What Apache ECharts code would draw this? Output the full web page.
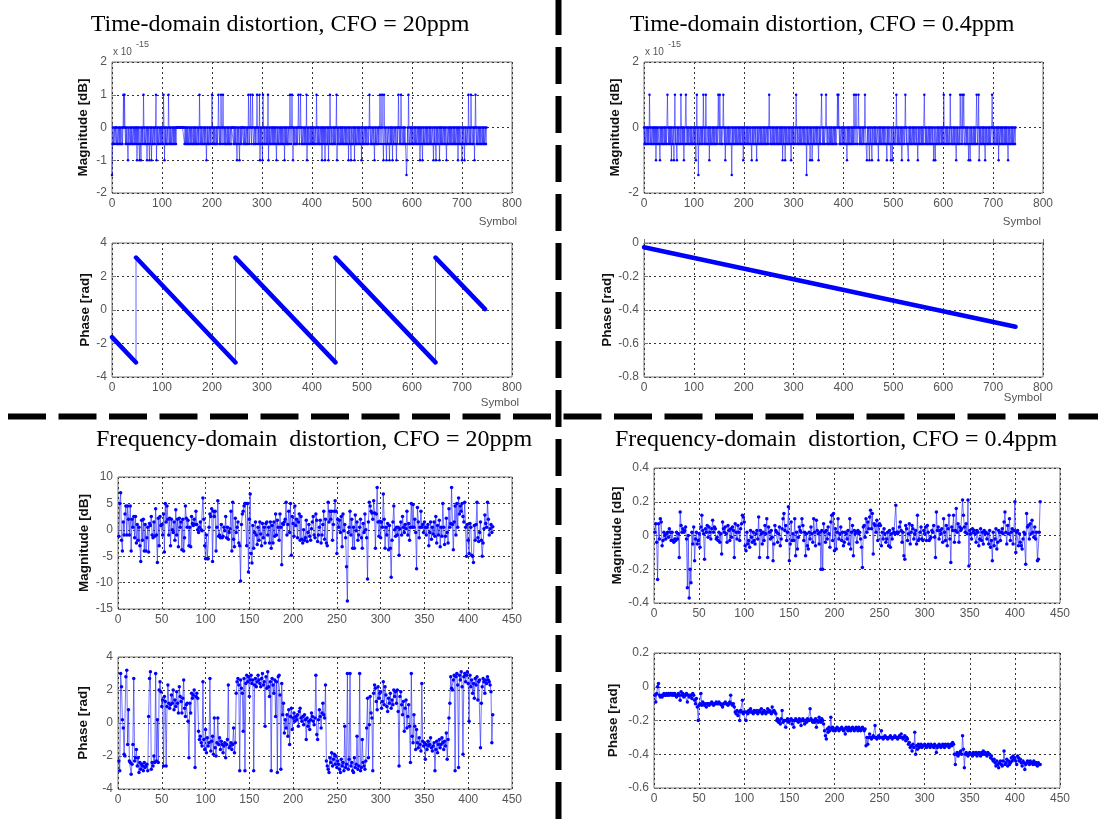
<!DOCTYPE html>
<html><head><meta charset="utf-8">
<script src="https://cdn.jsdelivr.net/npm/echarts@6/dist/echarts.min.js"></script>
<style>html,body{margin:0;padding:0;background:#fff}#c{width:1098px;height:827px}</style>
</head><body><div id="c"></div><script>
// ---------- DATA ----------
// Time-domain magnitude error, CFO = 20ppm (units of 1e-15 dB), symbol index 0..749
const tdMag20 = [
-1.45,-.5,0,-.5,-.5,0,-.5,0,0,-.5,0,-.5,-.5,0,-.5,0,-.5,0,-.5,-.5,0,-.5,0,1,0,
1,0,-.5,0,-.5,0,-.5,-1,0,-.5,-.5,0,-.5,0,-.5,0,-.5,-.5,0,-.5,0,-.5,0,-.5,0,
-1,0,-.5,0,-.5,-1,0,-.5,-1,0,-.5,0,-.5,1,0,-.5,0,-.5,-.5,0,-1,0,-.5,0,-.5,
-1,0,-.5,0,-1,0,-.5,-.5,0,-.5,0,-.5,0,1,-1,0,-.5,0,-.5,-.5,0,-.5,0,-.5,0,
-.5,0,-.5,1,0,-1,0,-.5,0,-.5,-.5,0,-.5,1,0,-.5,0,-.5,0,-.5,-.5,0,-.5,0,-.5,
0,-.5,0,-.5,0,0,0,0,0,0,0,0,0,0,0,0,0,0,0,0,-.5,0,-.5,0,-.5,
0,-.5,0,-.5,-.5,0,-.5,0,-.5,0,-.5,-.5,0,-.5,0,-.5,0,-.5,0,-.5,-.5,0,-.5,0,-.5,
1,0,-.5,0,-.5,0,-.5,-.5,0,-.5,0,-.5,0,-.5,-1,0,-.5,0,-.5,-.5,0,-.5,0,-.5,0,
1,0,-.5,0,-.5,0,-.5,-.5,0,-.5,0,-.5,0,1,0,-.5,0,-.5,1,0,-.5,0,1,0,-.5,
0,-.5,0,-.5,-.5,0,-.5,0,-.5,0,-.5,-.5,0,-.5,0,0,0,0,-.5,0,-.5,0,-.5,0,-.5,
-1,0,-.5,0,-.5,-1,0,-.5,0,-.5,0,0,0,-.5,0,-.5,0,-.5,-.5,0,-.5,0,-.5,1,0,
-.5,0,1,0,-.5,0,1,0,-.5,-.5,0,-.5,0,-.5,0,1,0,-.5,0,-.5,1,-1,0,-.5,0,
-.5,-1,1,0,-.5,0,-.5,-.5,0,-.5,0,-.5,1,-1,0,-.5,0,-.5,-.5,0,-.5,0,-.5,0,-.5,
0,-.5,0,-.5,-1,0,-.5,0,-.5,-.5,0,-.5,0,-.5,0,-.5,0,-.5,-.5,0,-1,0,-.5,0,-.5,
0,-.5,-.5,0,-.5,0,1,0,-.5,0,1,0,-1,0,-.5,0,-.5,-.5,0,-.5,0,-.5,0,1,0,
-.5,0,1,0,-.5,0,-.5,-.5,0,-.5,0,-.5,0,-.5,1,-1,0,-.5,0,-.5,-.5,0,-.5,0,-.5,
0,-.5,0,-.5,0,-.5,-.5,0,-.5,1,0,-.5,0,-.5,0,-.5,-.5,0,-.5,0,-1,0,-.5,0,-.5,
0,-1,0,-.5,-.5,0,-.5,0,-1,0,-.5,1,0,-.5,0,-.5,-.5,0,-.5,0,-.5,0,-.5,0,1,
-1,0,-.5,0,-.5,-.5,0,-.5,0,-.5,0,-.5,0,-.5,-.5,0,-.5,0,-.5,0,-.5,-.5,0,-1,0,
-.5,0,-.5,-1,0,-.5,-.5,0,-.5,0,-1,0,-.5,0,-.5,-.5,0,-.5,0,-.5,0,-.5,-.5,0,-1,
0,-.5,0,-.5,-.5,0,-.5,0,-.5,0,-.5,-.5,0,-.5,0,1,0,-.5,0,-.5,-.5,0,-.5,0,-.5,
-1,0,-.5,0,-.5,-.5,0,-.5,0,-.5,0,1,0,-.5,0,1,0,-.5,-1,1,0,-.5,0,-.5,-1,
0,-.5,-.5,0,-.5,-1,0,-.5,0,-.5,0,-1,0,-.5,-.5,0,-.5,0,-.5,-1,0,-.5,0,1,0,
-.5,0,-.5,1,0,-.5,-.5,0,-.5,0,-.5,0,-.5,-.5,-1.45,-1,0,-.5,1,0,-.5,-.5,0,-.5,0,
-.5,0,-.5,-.5,0,-.5,0,-.5,0,-.5,-.5,0,-.5,0,-.5,0,-1,0,-.5,0,-.5,-1,0,-.5,0,
-.5,-.5,0,-.5,0,-.5,0,-.5,-.5,0,-.5,0,-.5,0,-.5,-.5,0,-.5,-1,0,-.5,0,-.5,-1,0,
-.5,0,-.5,-.5,0,-1,0,-.5,0,-.5,0,-.5,-.5,0,-.5,0,-.5,0,-.5,-1,0,-.5,-.5,0,-.5,
0,-.5,0,-.5,0,-.5,-.5,0,-.5,0,-.5,0,-.5,-.5,0,-.5,0,-1,0,-.5,0,-.5,-.5,0,-.5,
-1,0,-.5,0,-.5,-1,0,-.5,0,-.5,-.5,0,-.5,1,0,-.5,0,-.5,1,0,-.5,-.5,0,-.5,0,
-1,0,1,0,-.5,0,-.5,-.5,0,-.5,0,-.5,0,-.5,-.5,0,-.5,0,-.5,0,-.5,-.5,0,-.5,0
];
// Time-domain magnitude error, CFO = 0.4ppm (units of 1e-15 dB)
const tdMag04 = [
0,-.5,0,-.5,-.5,0,-.5,0,-.5,0,-.5,1,0,-.5,0,-.5,-.5,0,-.5,0,-.5,0,-.5,0,-1,
0,-.5,0,-.5,-.5,0,-.5,-1,0,-.5,0,-.5,0,-.5,-.5,0,-.5,0,-.5,0,-.5,-.5,1,0,-.5,
0,-.5,0,-.5,0,-1,0,-.5,-.5,0,-1,0,1,-.5,0,-.5,-1,0,-.5,0,-.5,-.5,0,-.5,1,
0,-.5,0,-.5,0,-1,0,-.5,-.5,1,0,-.5,0,-.5,0,-.5,-.5,0,-.5,0,-.5,0,-.5,-.5,0,
-.5,0,-.5,0,-1,0,1,-.5,0,-1.45,0,-.5,-.5,0,-.5,0,-.5,0,-.5,1,0,-.5,0,-.5,1,
0,-.5,-.5,0,-.5,0,-1,0,-.5,0,-.5,-.5,0,-.5,0,-.5,0,-.5,-.5,0,-.5,0,-.5,0,1,
0,-.5,1,0,-.5,0,-.5,-.5,0,1,0,-.5,0,-1,0,-.5,-.5,0,-.5,0,-.5,0,-.5,-.5,0,
-.5,-1.45,0,-.5,0,-.5,-.5,0,-.5,0,-.5,0,-.5,-.5,0,-.5,0,-.5,0,-.5,-.5,0,-.5,0,-1,
0,-.5,0,-.5,-.5,0,-.5,0,-.5,0,-.5,-.5,0,-.5,0,-.5,-1,0,-.5,0,-.5,-.5,0,-.5,0,
-.5,-1,0,-.5,0,-.5,-.5,0,-.5,0,-.5,0,-.5,-.5,0,-.5,0,-.5,0,-.5,-.5,0,-.5,0,-.5,
0,1,0,-.5,0,-.5,-.5,0,-.5,0,-.5,0,-.5,-.5,0,-.5,0,-.5,0,-.5,-.5,0,-.5,0,-.5,
0,-.5,0,-1,0,-.5,-.5,0,-1,0,-.5,0,-.5,-.5,0,-.5,0,-.5,0,-.5,-1,0,-.5,0,-.5,
0,-.5,-.5,0,-.5,1,0,-.5,0,-.5,-.5,0,-.5,0,-.5,0,-.5,-.5,0,-.5,0,-.5,0,-.5,-.5,
0,-1.45,0,-.5,0,-.5,-.5,0,-1,0,-.5,0,-1,-.5,0,-.5,0,-.5,-.5,0,-.5,0,-.5,0,-.5,
-1,0,-.5,0,-.5,-.5,1,0,-.5,0,-.5,0,-.5,-.5,0,1,0,-.5,0,-.5,-.5,0,-.5,0,-.5,
0,-.5,0,-.5,-.5,0,-.5,0,-.5,0,-.5,-.5,0,1,0,1,0,-.5,0,-.5,-.5,0,-.5,0,-.5,
0,-.5,0,-.5,-.5,0,-.5,-1,0,-.5,0,-.5,0,-.5,-.5,0,-.5,0,-.5,0,-.5,1,0,-.5,0,
1,0,-.5,-.5,0,1,0,-.5,0,-.5,0,-.5,-.5,0,-.5,0,-.5,0,1,0,-.5,-.5,-1,0,-.5,
0,-.5,-1,0,-.5,0,-.5,-1,0,-.5,-.5,0,-.5,0,-.5,0,-.5,-.5,0,-.5,-1,0,-.5,0,-.5,
0,-.5,-.5,0,-.5,0,-.5,0,-.5,-.5,0,-.5,-1,0,-.5,0,-.5,-.5,0,-.5,-1,0,-.5,-1,0,
-.5,0,-.5,-.5,0,-.5,1,0,-.5,0,-.5,0,-.5,-.5,0,-.5,0,-1,0,-.5,-.5,0,-.5,0,1,
0,-.5,0,-.5,-.5,-1,0,-.5,0,-.5,0,-.5,-.5,0,-.5,0,-.5,0,-.5,-.5,0,-.5,0,-.5,-1,
0,-.5,0,-.5,-.5,0,-.5,0,-.5,0,-.5,-.5,1,0,-.5,0,-.5,0,-.5,-.5,0,-.5,0,-.5,0,
-.5,-.5,0,-.5,0,-.5,-1,0,-.5,-1,0,-.5,-.5,0,-.5,0,-.5,0,-.5,-.5,0,-.5,0,-.5,0,
-.5,1,0,-.5,-.5,0,-.5,0,-.5,0,-.5,-.5,0,-.5,1,0,-.5,0,-.5,-.5,0,-.5,0,-.5,0,
-.5,-1,0,-.5,0,-.5,-.5,0,-.5,1,0,-.5,0,1,-.5,0,1,0,-.5,-.5,0,-.5,0,-.5,0,
-.5,-1,0,-.5,-1,0,-.5,0,-.5,-.5,0,-.5,0,-.5,0,-.5,-.5,1,0,-.5,0,1,-1,0,-.5,
0,-.5,-.5,0,-.5,0,-.5,0,-.5,-1,0,-.5,0,-.5,-.5,0,-.5,0,-.5,0,-.5,-.5,0,1,0,
-.5,0,-.5,0,-.5,-.5,0,-.5,0,-.5,0,-1,0,-.5,-.5,0,-.5,0,-.5,0,-.5,-.5,0,-.5,0,
-.5,0,-.5,0,-.5,-1,0,-.5,0,-.5,-.5,0,-.5,0,-.5,0,-.5,-.5,0,-.5,0
];
// Time-domain phase: straight segments (symbol, rad)
const tdPh20Sym = [0, 48, 48, 247, 247, 447, 447, 647, 647, 746];
const tdPh20Val = [-1.62, -3.13, 3.13, -3.13, 3.13, -3.13, 3.13, -3.13, 3.13, 0.05];
const tdPh04Sym = [0, 745];
const tdPh04Val = [-0.025, -0.5];

// Frequency-domain magnitude, CFO = 20ppm (dB), subcarrier 1..428
const fdMag20 = [
-1.2,5,7,-2,-4,1.5,-1,3,4.5,-1,4.5,2,-1,4.5,-4,2,0.5,2.5,-1.5,2.5,
-2.5,1,-2,0.5,-3,-6,1.8,-2,2,-4,1,-4,-1.5,0.5,-4.2,1.2,0.8,2.5,-1,-1.5,
1.5,-1.2,4,-1,-6.2,2.2,-3,2.5,0.8,1,-1,3,-4.2,5,1.5,4.5,2,-1,2.2,-3,
2,0,-0.5,1.5,-2,3.8,-1,2,-3.2,2.2,0.5,1.5,-3.8,2,-4,-1.5,4.5,2.2,0.5,1.8,
-3,0.5,-3.2,2.5,1.2,0.8,2,1,3.5,1,0,-0.5,0.5,1.5,0,-0.2,6,2,-3,-5.5,
-1,-5.5,-5.5,0.5,3,2.5,4,-6,3.5,2.5,3.5,-4,0.5,5.5,-1.2,-1,-1.5,1,-1.5,-1.2,
0.5,-0.2,2.5,-1.5,0.5,-1.8,-0.5,0.2,3.5,-4,5.2,-1.8,-3.2,2.2,-0.5,0.5,1.5,-2.5,-3,-9.7,
1,3,3.5,4.5,5,5,-3,5,-8,2,6.8,-4.5,-6.3,0.8,-3.5,-0.5,1.5,-1,-2.8,0.5,
-2,1.5,-0.8,-3,1.2,-1.5,0.5,-2.5,1.2,1.5,-1,0.5,-2.5,1.5,-3.5,0.8,-2.5,1.5,-1.2,3,
-1,1.8,0.5,-2,3,0.5,-6.6,1.2,1,1.5,2,5.2,-1,1,3.5,-0.5,5,-4.8,2.5,1.2,
-1.2,4.5,0.8,2,-1.5,1.5,3,-2,2.5,-1.8,-2.5,0,-2,-1.5,1.8,-2.2,-0.5,1,-1.2,-2,
0.2,1.5,2.5,-1,-1.5,3,1.8,-2.2,-1,0.5,1.8,-2.5,-1,1,3.5,-1.8,2,-2.5,-3,5.2,
1.5,3.5,2,3.5,-2,1,3.5,5.5,3.5,-4.5,2,0.5,1.8,-0.5,2.5,-3.2,3,-0.2,1,-1.5,
-7,-13.5,-0.5,0.5,3.5,-1,2,-3.5,0.5,-3.5,2.8,-0.2,1.5,-2,-1,0.5,2,-1.5,-3.5,1.2,
-0.5,3,0,-1.5,-9.3,1.5,5.2,4.5,3.5,3.2,2,5.5,3.2,-3.5,3,8,1.5,-1.2,1.6,-1.5,
1.5,0.5,6.8,2,-3.5,0.5,-1,1.2,-3.8,0.8,-3.5,-9,-2,1.5,4.5,0,-1.2,0.5,-1,0.5,
-4.8,0.2,1.5,-1,2.5,0.5,-0.5,1,0.2,3.5,-1,1.2,-2,0.5,5,0.5,4.8,0.5,2,-0.5,
-7.4,4.2,1.5,-1.5,0.5,3.5,0.5,1,-0.5,1.5,0.5,-1,0.5,1,-3,-0.5,1.5,-1.8,0.5,-0.8,
1.5,-1.2,2.5,-2.5,0.8,-1,1.8,-3.2,0.5,-1.2,5,0.5,-2.8,-1.2,2.2,-0.5,-2.5,4,0.5,1.2,
8,1,-3.8,1.5,4.5,-1,5,0.5,6,3,4.5,3.5,5,2.5,1.5,5.2,0.5,-5,1,-2,
-4.5,1.2,0.5,-4.8,-5,-6.2,0.8,-2,1,5.2,-1.5,-2.2,-0.5,1.5,-2,-5,-2.5,0.2,2.8,1.2,
0.5,5.2,2,-1,0.2,1,-0.5,0.6
];
// Frequency-domain magnitude, CFO = 0.4ppm (dB)
const fdMag04 = [
0.02,0.07,-0.04,-0.26,0.07,-0.02,0.1,0.08,-0.06,-0.03,0.02,0,-0.02,0.01,0.02,-0.01,0.04,0.02,-0.03,0.02,
-0.03,-0.04,-0.02,-0.03,0.02,-0.02,0.01,-0.13,0.14,0.06,0.02,0.04,0.02,0.03,0.05,-0.02,-0.31,0,-0.37,-0.2,
-0.28,0.02,-0.05,0.05,-0.15,-0.02,0.02,-0.05,-0.03,0.01,-0.07,0.05,0.12,0.03,0.01,-0.14,0.04,0.02,0.06,-0.01,
0.05,0.02,-0.02,0.04,0.09,0.02,0.05,0.04,-0.02,-0.01,-0.03,0.02,-0.04,0.01,-0.11,0.08,0.04,0.02,0.05,0.01,
-0.04,0.06,0.03,-0.03,0.04,-0.01,0.05,0.03,-0.13,0.07,0.02,-0.02,0.06,0.02,-0.03,0.04,0.07,0.12,0.11,0.08,
-0.06,-0.09,0.02,-0.05,-0.03,-0.07,0.03,-0.01,-0.04,0.02,-0.03,-0.05,0.01,0.03,-0.02,0.11,-0.13,0.03,0.01,-0.05,
0.02,-0.03,0.06,0.01,0.1,-0.13,0.05,0.02,-0.02,0.03,-0.01,-0.15,-0.05,0.06,0.03,0.02,-0.04,0.01,0.05,-0.06,
-0.02,0.04,0.1,0.13,0.03,0.06,-0.03,0.02,0.17,-0.15,-0.05,0.08,-0.03,0.01,-0.03,0.1,-0.12,0.02,-0.08,-0.01,
0.05,0.03,0.02,0.1,0.06,-0.03,0.02,-0.12,0.01,-0.06,-0.08,0.02,-0.02,0.05,0.01,-0.04,0.1,0.02,-0.06,0.09,
0.03,0.01,-0.05,0.02,-0.2,0.03,-0.2,0.07,0.02,-0.04,0.03,-0.02,0.05,0.01,-0.07,0.08,0.12,-0.03,0.13,-0.09,
0.04,-0.08,0.02,0.1,-0.02,0.01,0.05,-0.03,0.02,-0.06,-0.04,0.02,0.01,-0.02,0.03,-0.05,0.1,-0.08,0.02,0.06,
-0.12,0.03,0.01,0.02,-0.04,0.03,0.01,0.02,-0.02,-0.07,-0.19,0.05,0.06,-0.01,0.1,0.02,0.08,0.04,0.11,0.15,
0.04,0.13,-0.11,0.07,0.06,0.02,0.09,-0.03,0.06,0.07,0.06,-0.06,0.02,-0.02,0.04,0.01,-0.04,-0.02,0.02,-0.06,
0.03,-0.07,0.01,-0.02,0.04,0.02,0.01,0.18,0.02,0.01,0.02,0.05,0.08,0.03,-0.04,0.02,-0.12,-0.14,0.06,0.04,
-0.03,0.01,0.07,-0.05,0.02,0.06,0.04,-0.02,0.01,0.03,-0.05,0.12,-0.03,-0.02,0.02,0.05,-0.02,-0.03,0.03,0.01,
0.05,-0.03,0.06,0.02,-0.03,-0.02,-0.01,0.03,0.02,0.06,-0.01,-0.13,0.14,0.03,0.05,-0.02,0.03,0.01,0.04,-0.04,
0.1,0.02,-0.03,0.06,-0.06,0.04,0.12,-0.02,-0.16,0.05,0.03,0.12,-0.04,0.03,0.16,0.02,0.07,-0.04,0.05,0.03,
0.04,0.21,0.12,0.05,0.02,0.07,0.01,0.21,-0.18,0.03,0.01,-0.02,0.04,0.02,0.03,0.01,-0.04,0.03,0.02,-0.06,
-0.02,0.04,-0.03,0.02,-0.05,0.03,0.01,0.02,-0.02,0.01,-0.05,0.03,-0.07,-0.03,-0.15,0.02,-0.06,-0.02,0.04,-0.08,
-0.04,0.03,0.02,-0.03,0.02,0.04,0.01,0.08,0.14,0.02,-0.05,0.06,0.01,0.1,-0.03,0.02,0.04,-0.05,0.03,0.2,
-0.1,0.02,0.03,-0.06,0.01,-0.04,-0.06,-0.08,-0.02,0.02,0.01,-0.17,0.13,0.05,0.06,-0.02,0.07,0.01,0.09,0.02,
-0.01,0.05,-0.02,0.02,-0.15,-0.14,0.02,0.2
];
// Frequency-domain phase, CFO = 20ppm (rad)
const fdPh20 = [
-2.3,-2.9,3,2.2,0.2,-0.3,-1.9,-2,2.8,3.2,-1.3,0.8,-2.3,-2.4,-3.1,-2.5,-1.3,2.7,-2.3,-2.1,
-1.6,-2.6,-2.1,-3,-2.4,-2.8,-2.5,-2.6,-2.9,-2.4,-2.7,-2.6,-2.5,-2.9,0.4,2.7,3.1,-2.8,-2.4,-2.6,
-2,-2.4,3,-2.3,0.2,-2.4,2,2.5,1.9,1,1.4,-2.6,1.6,1.3,-2.6,1,2.3,1.2,0.9,1.1,
1.7,1.2,2,0.8,1.4,1,1.9,1.2,0.6,2.2,1.6,1.3,0.6,1.5,2.6,0.9,0.4,1.1,1.2,0.1,
-2.1,1.2,0.6,1.8,1.5,1.7,2,-2.7,1.6,1.8,1.5,-0.5,-1,-0.8,-1.2,-1.4,2.5,-1,-1.6,-0.4,
-1.8,-0.9,-1.4,-1.2,2.7,-1.7,-1.1,-0.8,-1.9,0.3,-1.5,-2,-1.2,0.3,-1.3,-0.9,-1.6,-1.1,-1.3,-1.8,
-1.4,-1.2,-2.1,-1.3,-1,2.3,-1.5,-1.4,-1.2,-1.6,-1.3,-0.3,-1.8,-1.2,1.8,2.5,2.7,2.3,-2.9,2.6,
2.1,1.8,-0.5,2.7,-2.9,2.4,2.9,2.5,2.8,1.6,2.6,2.9,2.4,2.6,-2.9,2.3,2.7,2.2,2.5,2.9,
2.6,2.4,2.2,2.7,3,2.3,2.5,-0.2,2.8,2.1,3.1,2.2,1.6,2.5,-2.9,2.7,2.3,1.8,2.6,0.4,
2.5,-3,2.8,2.9,1.7,-2.8,2.4,0.5,1.2,-0.6,0.2,-0.3,0.5,-0.8,0.8,-1.3,0.4,0.9,-0.4,0.3,
0.6,0.1,0.4,0.2,0.5,-0.2,0.7,0.9,0.3,0.1,0.4,-0.1,0.5,0.2,-1,0.3,-0.2,0.1,-0.4,0.2,
0.6,0.4,0.1,-0.1,0.3,2.9,-0.7,-1,0.2,0.8,0.4,-0.3,0.6,1.2,0.5,0.3,2.3,-2.3,-2.6,-2.8,
-3,-2.1,-2.4,-1.8,-2.6,-2.2,-1.9,-2.5,-2,-2.7,-2.3,-2.5,-2.8,-3,-2.2,-2.6,-2.4,-2.9,-0.2,-2.7,
-2.5,3,-2.8,-2.2,3,-2.6,-2.4,-2.9,-3,-2.1,-2.7,-2.5,-0.8,-2.8,-2.6,3,-2.9,-2.7,-1,-2.4,
-2.6,-2.8,-2.3,-0.3,1.5,-2.1,-0.1,1.6,0.6,0.3,-2.9,1.8,2.3,2.1,1.3,0.8,2.2,1.5,1.8,1.9,
0.9,1.3,2.5,1.1,2.2,1.7,1,0.7,1.5,1.2,1.8,0.9,1.4,1.1,2,1.6,1.9,1.2,2,0.7,
-2.6,1.6,1.9,1.1,0.5,1.3,-0.5,0.9,1.4,-0.3,0.4,1.1,-0.2,-2.4,3,-0.8,-1.2,0.5,-0.2,-1.6,
-0.4,-1.2,-1.5,-0.9,-1.3,-1.7,2.4,-1.1,-1.4,-1.2,-2.2,-1.3,-1.6,-1.1,-1.4,-1.3,-0.9,-1.5,-1.7,-1.4,
-1.2,-2.9,-1.6,-1.1,-1.8,-1.3,-1,-1.5,-1.3,-0.9,-1.2,-1.6,-1.1,-1.4,-0.6,-2.2,-1,0.3,1.2,2.8,
2.1,2,2.6,2.9,-2.9,2.8,3,2.3,-2.7,2.9,2.6,3.1,2.2,-1.9,2.8,3,2.5,2.9,3.1,2.4,
0.1,2.9,2.2,2.6,1.8,2.4,1.5,2.7,2.3,2.8,1.4,2.5,2.6,-1.5,1.2,2.2,2.7,2.5,1.8,2.6,
2.4,2.8,2.6,2.5,2.3,1.9,-1.2,0.5
];
// Frequency-domain phase, CFO = 0.4ppm (rad)
const fdPh04 = [
-0.05,-0.09,-0.04,0,0.02,-0.05,-0.06,-0.05,-0.06,-0.05,-0.04,-0.05,-0.05,-0.04,-0.05,-0.04,-0.05,-0.04,-0.04,-0.05,
-0.04,-0.05,-0.04,-0.05,-0.06,-0.05,-0.04,-0.05,-0.08,-0.03,-0.05,-0.04,-0.06,-0.05,-0.05,-0.04,-0.09,-0.05,-0.06,-0.05,
-0.05,-0.07,-0.04,-0.05,-0.08,-0.1,-0.07,-0.12,-0.2,-0.11,-0.1,-0.04,-0.11,-0.09,-0.1,-0.11,-0.1,-0.12,-0.1,-0.1,
-0.11,-0.1,-0.1,-0.09,-0.1,-0.11,-0.1,-0.1,-0.09,-0.1,-0.1,-0.09,-0.1,-0.1,-0.11,-0.12,-0.1,-0.1,-0.09,-0.1,
-0.1,-0.11,-0.1,-0.09,-0.05,-0.1,-0.11,-0.1,-0.12,-0.15,-0.16,-0.14,-0.17,-0.15,-0.2,-0.14,-0.15,-0.08,-0.16,-0.15,
-0.15,-0.2,-0.15,-0.16,-0.14,-0.15,-0.13,-0.15,-0.15,-0.16,-0.14,-0.15,-0.15,-0.14,-0.16,-0.15,-0.14,-0.15,-0.13,-0.16,
-0.15,-0.14,-0.15,-0.16,-0.15,-0.13,-0.15,-0.14,-0.15,-0.16,-0.12,-0.15,-0.14,-0.15,-0.16,-0.2,-0.19,-0.21,-0.2,-0.22,
-0.19,-0.14,-0.21,-0.2,-0.2,-0.24,-0.2,-0.19,-0.21,-0.2,-0.2,-0.19,-0.22,-0.2,-0.24,-0.2,-0.19,-0.2,-0.2,-0.21,
-0.19,-0.2,-0.23,-0.2,-0.19,-0.2,-0.22,-0.2,-0.21,-0.19,-0.2,-0.2,-0.13,-0.19,-0.2,-0.21,-0.2,-0.21,-0.19,-0.24,
-0.2,-0.21,-0.18,-0.2,-0.21,-0.19,-0.2,-0.22,-0.26,-0.29,-0.31,-0.25,-0.27,-0.24,-0.26,-0.18,-0.25,-0.24,-0.26,-0.25,
-0.26,-0.25,-0.24,-0.25,-0.26,-0.25,-0.25,-0.24,-0.25,-0.26,-0.25,-0.28,-0.24,-0.25,-0.26,-0.24,-0.25,-0.26,-0.25,-0.24,
-0.25,-0.26,-0.25,-0.24,-0.25,-0.26,-0.24,-0.25,-0.26,-0.25,-0.24,-0.25,-0.26,-0.25,-0.35,-0.3,-0.34,-0.3,-0.28,-0.3,
-0.31,-0.3,-0.29,-0.3,-0.23,-0.3,-0.31,-0.3,-0.29,-0.3,-0.3,-0.26,-0.3,-0.31,-0.3,-0.29,-0.3,-0.3,-0.31,-0.3,
-0.3,-0.29,-0.3,-0.31,-0.3,-0.3,-0.29,-0.3,-0.3,-0.31,-0.3,-0.29,-0.3,-0.28,-0.3,-0.31,-0.3,-0.29,-0.32,-0.3,
-0.31,-0.34,-0.33,-0.36,-0.35,-0.38,-0.34,-0.36,-0.27,-0.4,-0.35,-0.37,-0.34,-0.36,-0.35,-0.34,-0.36,-0.35,-0.35,-0.34,
-0.35,-0.36,-0.35,-0.34,-0.35,-0.36,-0.34,-0.35,-0.35,-0.36,-0.34,-0.35,-0.39,-0.36,-0.35,-0.34,-0.35,-0.36,-0.35,-0.34,
-0.35,-0.36,-0.34,-0.35,-0.35,-0.34,-0.36,-0.35,-0.34,-0.35,-0.33,-0.34,-0.4,-0.46,-0.4,-0.39,-0.41,-0.4,-0.39,-0.38,
-0.4,-0.29,-0.37,-0.48,-0.4,-0.39,-0.4,-0.41,-0.4,-0.39,-0.4,-0.4,-0.41,-0.39,-0.4,-0.4,-0.39,-0.41,-0.4,-0.39,
-0.4,-0.41,-0.39,-0.4,-0.38,-0.4,-0.39,-0.4,-0.41,-0.39,-0.4,-0.4,-0.42,-0.41,-0.43,-0.44,-0.43,-0.45,-0.47,-0.44,
-0.46,-0.48,-0.45,-0.44,-0.46,-0.47,-0.44,-0.38,-0.46,-0.45,-0.43,-0.47,-0.44,-0.46,-0.45,-0.42,-0.44,-0.41,-0.43,-0.42,
-0.44,-0.46,-0.41,-0.42,-0.44,-0.43,-0.45,-0.47,-0.44,-0.45,-0.49,-0.46,-0.45,-0.44,-0.45,-0.46,-0.44,-0.45,-0.45,-0.46,
-0.44,-0.45,-0.46,-0.45,-0.47,-0.45,-0.46,-0.46
];
// Axis tick settings
const timeTicks = [0, 800, 100];
const freqTicks = [0, 450, 50];

// ---------- CHART ----------
const FONT = '"Liberation Sans", Arial, sans-serif';
const chart = echarts.init(document.getElementById('c'), null, {renderer: 'canvas'});

function grid(l, t, w, h) {
  return {left: l, top: t, width: w, height: h, show: true, borderColor: '#777', borderWidth: 1,
    backgroundColor: '#fff', containLabel: false, outerBoundsMode: 'none'};
}
const splitLine = {show: true, lineStyle: {color: '#333', type: [2, 3], width: 1}};
function xAx(gi, t) {
  return {gridIndex: gi, type: 'value', min: t[0], max: t[1], interval: t[2],
    axisLine: {show: false}, axisTick: {show: true, inside: true, length: 4, lineStyle: {color: '#777'}},
    axisLabel: {color: '#555', fontSize: 12, margin: 5, fontFamily: FONT}, splitLine: splitLine};
}
function yAx(gi, min, max, itv, name, gap) {
  return {gridIndex: gi, type: 'value', min: min, max: max, interval: itv,
    name: name, nameLocation: 'middle', nameGap: gap, nameRotate: 90,
    nameTextStyle: {fontWeight: 'bold', fontSize: 13.5, color: '#111', fontFamily: FONT},
    axisLine: {show: false}, axisTick: {show: true, inside: true, length: 4, lineStyle: {color: '#777'}},
    axisLabel: {color: '#555', fontSize: 12, margin: 5, fontFamily: FONT}, splitLine: splitLine};
}
function dotsSeries(gi, arr, x0, size, lineCol) {
  return {type: 'line', xAxisIndex: gi, yAxisIndex: gi, data: arr.map((v, i) => [i + x0, v]),
    symbol: 'circle', symbolSize: size, showSymbol: true, silent: true, animation: false,
    lineStyle: {color: lineCol, width: 1}, itemStyle: {color: '#0000ff', borderWidth: 0}};
}
function thinSeries(gi, xs, ys) {
  return {type: 'line', xAxisIndex: gi, yAxisIndex: gi, data: xs.map((x, i) => [x, ys[i]]),
    showSymbol: false, symbol: 'none', silent: true, animation: false,
    lineStyle: {color: 'rgba(0,0,255,0.6)', width: 1}};
}
function thickSeries(gi, xs, ys) {
  const d = [];
  for (let i = 0; i < xs.length; i += 2) {
    if (i > 0) d.push([xs[i], '-']);
    d.push([xs[i], ys[i]]); d.push([xs[i + 1], ys[i + 1]]);
  }
  return {type: 'line', xAxisIndex: gi, yAxisIndex: gi, data: d, connectNulls: false,
    showSymbol: false, symbol: 'none', silent: true, animation: false,
    lineStyle: {color: '#0000ff', width: 4.5, cap: 'round'}};
}

function txt(x, y, s, size, opts) {
  return Object.assign({type: 'text', x: x, y: y, silent: true,
    style: Object.assign({text: s, fontSize: size, fontFamily: FONT, fill: '#555', align: 'center', verticalAlign: 'middle'}, opts || {})});
}
const serif = {fontFamily: '"Liberation Serif", "Times New Roman", serif', fill: '#000'};

const option = {
  backgroundColor: '#fff',
  animation: false,
  grid: [
    grid(112, 62, 400, 131), grid(112, 243, 400, 134),
    grid(644, 62, 399, 131), grid(644, 243, 399, 134),
    grid(118, 477, 394, 132), grid(118, 657, 394, 132),
    grid(654, 468, 406, 135), grid(654, 653, 406, 135)
  ],
  xAxis: [xAx(0, timeTicks), xAx(1, timeTicks), xAx(2, timeTicks), xAx(3, timeTicks),
          xAx(4, freqTicks), xAx(5, freqTicks), xAx(6, freqTicks), xAx(7, freqTicks)],
  yAxis: [
    yAx(0, -2, 2, 1, 'Magnitude [dB]', 22), yAx(1, -4, 4, 2, 'Phase [rad]', 20),
    yAx(2, -2, 2, 2, 'Magnitude [dB]', 22), yAx(3, -0.8, 0, 0.2, 'Phase [rad]', 30),
    yAx(4, -15, 10, 5, 'Magnitude [dB]', 22), yAx(5, -4, 4, 2, 'Phase [rad]', 28),
    yAx(6, -0.4, 0.4, 0.2, 'Magnitude [dB]', 27), yAx(7, -0.6, 0.2, 0.2, 'Phase [rad]', 34)
  ],
  series: [
    dotsSeries(0, tdMag20, 0, 2.5, 'rgba(0,0,255,0.5)'),
    thinSeries(1, tdPh20Sym, tdPh20Val), thickSeries(1, tdPh20Sym, tdPh20Val),
    dotsSeries(2, tdMag04, 0, 2.5, 'rgba(0,0,255,0.5)'),
    thickSeries(3, tdPh04Sym, tdPh04Val),
    dotsSeries(4, fdMag20, 1, 3.5, 'rgba(40,40,255,0.65)'),
    dotsSeries(5, fdPh20, 1, 3.5, 'rgba(40,40,255,0.65)'),
    dotsSeries(6, fdMag04, 1, 3.5, 'rgba(40,40,255,0.65)'),
    dotsSeries(7, fdPh04, 1, 3.5, 'rgba(40,40,255,0.65)')
  ],
  graphic: [
    // dashed dividers
    {type: 'line', silent: true, shape: {x1: 8, y1: 416.5, x2: 1098, y2: 416.5},
      style: {stroke: '#000', lineWidth: 6, lineDash: [38, 12.5]}},
    {type: 'line', silent: true, shape: {x1: 558.5, y1: -2, x2: 558.5, y2: 827},
      style: {stroke: '#000', lineWidth: 6, lineDash: [37, 12]}},
    // titles
    txt(280, 25, 'Time-domain distortion, CFO = 20ppm', 24, serif),
    txt(822, 25, 'Time-domain distortion, CFO = 0.4ppm', 24, serif),
    txt(314, 440, 'Frequency-domain  distortion, CFO = 20ppm', 24, serif),
    txt(836, 440, 'Frequency-domain  distortion, CFO = 0.4ppm', 24, serif),
    // exponent labels
    txt(113, 52, 'x 10', 10, {align: 'left'}), txt(136, 45, '-15', 9, {align: 'left'}),
    txt(645, 52, 'x 10', 10, {align: 'left'}), txt(668, 45, '-15', 9, {align: 'left'}),
    // axis names "Symbol"
    txt(498, 222, 'Symbol', 11.5), txt(500, 403, 'Symbol', 11.5),
    txt(1022, 222, 'Symbol', 11.5), txt(1023, 398, 'Symbol', 11.5)
  ]
};
chart.setOption(option);
</script></body></html>
